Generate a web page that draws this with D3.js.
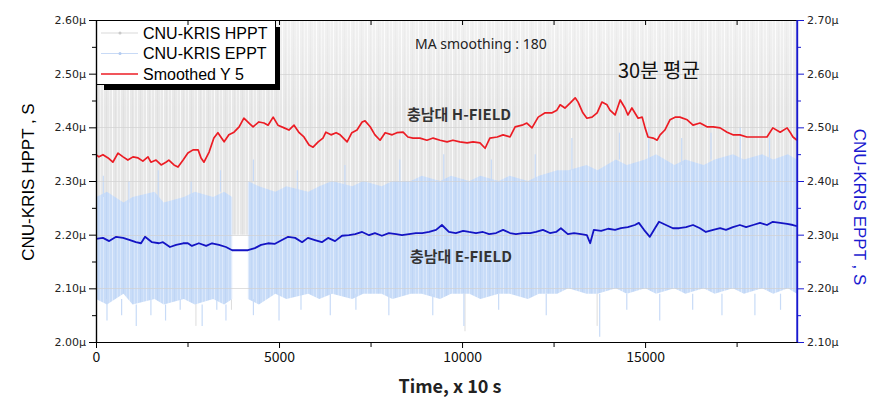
<!DOCTYPE html>
<html><head><meta charset="utf-8">
<script src="https://cdn.jsdelivr.net/npm/d3@7"></script>
<style>body{margin:0;background:#fff}svg{display:block}</style>
</head><body>
<svg id="c" width="887" height="412"></svg>
<script>
// ---------------- data ----------------
const timeDomain = [0, 19150];
const xTicks = [0, 5000, 10000, 15000];
const xMinorTicks = [2500, 7500, 12500, 17500];
const leftTicks = [2.0, 2.1, 2.2, 2.3, 2.4, 2.5, 2.6];
const rightTicks = [2.1, 2.2, 2.3, 2.4, 2.5, 2.6, 2.7];
const leftDomain = [2.0, 2.6];
const rightDomain = [2.1, 2.7];

// raw HPPT noise envelope [time, low, high] (left axis, µs)
const hpptBand = [
  [0,2.21,2.62],[1000,2.21,2.62],[2000,2.21,2.62],[3000,2.21,2.62],[3700,2.20,2.62],
  [4200,2.20,2.62],[5000,2.21,2.62],[6000,2.21,2.62],[7000,2.21,2.62],[8000,2.21,2.62],
  [9000,2.21,2.62],[10000,2.21,2.62],[11000,2.21,2.62],[12000,2.21,2.62],[13000,2.21,2.62],
  [14000,2.21,2.62],[15000,2.21,2.62],[16000,2.21,2.62],[17000,2.21,2.62],[18000,2.21,2.62],[19150,2.21,2.62]
];
// raw EPPT noise envelope [time, low, high] (right axis, µs); null = no data
const epptBand = [
  [0,2.18,2.37],[300,2.17,2.38],[750,2.19,2.36],[1000,2.17,2.37],[1600,2.18,2.38],
  [1850,2.17,2.36],[2400,2.18,2.37],[2700,2.17,2.38],[3200,2.18,2.37],[3500,2.17,2.38],
  [3720,2.18,2.37],[3930,null,null],[4150,2.18,2.40],[4450,2.17,2.39],[4900,2.19,2.38],
  [5200,2.18,2.39],[5800,2.19,2.38],[6100,2.18,2.39],[6450,2.19,2.40],[7000,2.18,2.39],
  [7300,2.19,2.40],[7800,2.19,2.39],[8100,2.18,2.40],[8600,2.19,2.40],[8900,2.19,2.41],
  [9400,2.18,2.40],[9700,2.19,2.41],[10200,2.19,2.40],[10500,2.18,2.41],[11000,2.19,2.40],
  [11300,2.19,2.41],[11800,2.18,2.40],[12100,2.19,2.41],[12600,2.19,2.42],[12900,2.20,2.42],
  [13400,2.19,2.43],[13700,2.19,2.42],[14200,2.20,2.44],[14500,2.19,2.43],[15000,2.20,2.44],
  [15300,2.19,2.45],[15800,2.20,2.43],[16100,2.19,2.44],[16600,2.20,2.43],[16900,2.19,2.44],
  [17400,2.20,2.45],[17700,2.19,2.44],[18200,2.20,2.45],[18500,2.19,2.44],[18900,2.20,2.45],
  [19150,2.19,2.44]
];
// isolated spikes [time, from, to]
const hpptSpikes = [[1150,2.21,2.10],[2730,2.21,2.03],[3700,2.20,2.06],[6200,2.21,2.11],[8800,2.21,2.12],
  [10080,2.21,2.02],[13690,2.21,2.03],[16800,2.21,2.10],[540,2.21,2.09],[2050,2.21,2.08],[4600,2.21,2.09],[12100,2.21,2.10]];
const epptSpikes = [
  [300,2.18,2.14],[700,2.18,2.15],[1100,2.17,2.13],[1500,2.18,2.15],[1900,2.17,2.14],[2300,2.18,2.16],
  [2900,2.17,2.13],[3300,2.18,2.16],[3550,2.17,2.14],[4300,2.18,2.15],[5000,2.19,2.14],[5600,2.19,2.16],
  [6400,2.19,2.15],[7100,2.19,2.16],[8000,2.19,2.15],[9200,2.19,2.15],[10050,2.19,2.13],[11000,2.19,2.16],
  [12300,2.19,2.15],[13760,2.19,2.11],[14500,2.19,2.16],[15400,2.19,2.14],[16300,2.19,2.16],[17100,2.19,2.15],
  [18000,2.19,2.15],[18700,2.19,2.16],
  [200,2.37,2.41],[900,2.36,2.40],[1700,2.37,2.42],[2600,2.37,2.40],[3400,2.38,2.42],[4300,2.40,2.44],
  [5500,2.38,2.42],[6800,2.39,2.43],[8300,2.39,2.44],[9500,2.40,2.45],[10800,2.40,2.44],[12000,2.40,2.45],
  [13000,2.42,2.48],[14300,2.44,2.49],[15100,2.44,2.50],[16000,2.43,2.48],[16800,2.44,2.49],[17600,2.44,2.50],[18400,2.44,2.48]
];

// 180-point moving averages
const hpptSmoothed = [
  [0,2.349],[80,2.345],[190,2.349],[330,2.343],[460,2.335],[600,2.352],[740,2.345],[870,2.339],
  [1010,2.345],[1150,2.343],[1280,2.337],[1420,2.345],[1500,2.335],[1640,2.339],[1780,2.330],
  [1910,2.335],[1990,2.339],[2130,2.330],[2240,2.326],[2380,2.339],[2510,2.352],[2650,2.358],
  [2790,2.358],[2870,2.343],[2950,2.335],[3090,2.354],[3220,2.380],[3330,2.390],[3500,2.373],
  [3630,2.386],[3770,2.391],[3910,2.401],[4040,2.417],[4180,2.408],[4290,2.401],[4450,2.410],
  [4590,2.408],[4700,2.404],[4840,2.419],[4970,2.404],[5140,2.399],[5270,2.395],[5410,2.404],
  [5550,2.390],[5680,2.382],[5820,2.367],[5930,2.363],[6070,2.373],[6200,2.380],[6280,2.391],
  [6420,2.386],[6560,2.390],[6670,2.386],[6860,2.373],[6990,2.390],[7130,2.395],[7270,2.410],
  [7350,2.412],[7490,2.401],[7620,2.386],[7760,2.376],[7900,2.390],[8090,2.386],[8220,2.390],
  [8390,2.391],[8520,2.382],[8660,2.380],[8850,2.380],[9040,2.376],[9210,2.380],[9400,2.376],
  [9590,2.373],[9750,2.376],[9940,2.373],[10140,2.371],[10300,2.373],[10490,2.371],[10630,2.361],
  [10760,2.380],[10960,2.382],[11120,2.386],[11310,2.382],[11450,2.401],[11640,2.404],[11770,2.408],
  [11910,2.399],[12080,2.419],[12270,2.427],[12460,2.427],[12590,2.432],[12680,2.442],[12810,2.436],
  [12950,2.445],[13090,2.455],[13170,2.447],[13300,2.427],[13410,2.417],[13550,2.419],[13690,2.427],
  [13820,2.447],[13960,2.442],[14040,2.432],[14180,2.423],[14320,2.451],[14450,2.436],[14530,2.423],
  [14640,2.436],[14810,2.417],[14920,2.419],[15000,2.399],[15080,2.382],[15220,2.380],[15330,2.376],
  [15410,2.386],[15540,2.395],[15680,2.414],[15820,2.419],[15950,2.419],[16150,2.414],[16310,2.404],
  [16500,2.408],[16690,2.401],[16860,2.401],[17050,2.399],[17240,2.391],[17400,2.386],[17590,2.386],
  [17780,2.382],[17950,2.382],[18140,2.382],[18330,2.382],[18490,2.399],[18690,2.391],[18880,2.399],
  [18960,2.391],[19040,2.382],[19150,2.376]
];
const epptSmoothed = [
  [0,2.292],[190,2.294],[360,2.288],[550,2.296],[740,2.294],[930,2.290],[1090,2.286],[1230,2.284],
  [1340,2.296],[1530,2.286],[1720,2.284],[1830,2.286],[2020,2.277],[2190,2.281],[2380,2.284],
  [2510,2.284],[2620,2.279],[2810,2.284],[3010,2.279],[3170,2.284],[3360,2.281],[3550,2.277],
  [3720,2.271],[4150,2.271],[4340,2.275],[4510,2.281],[4700,2.284],[4890,2.283],[5080,2.290],
  [5250,2.296],[5440,2.294],[5630,2.286],[5790,2.294],[5980,2.290],[6170,2.286],[6340,2.294],
  [6530,2.288],[6720,2.298],[6910,2.299],[7080,2.301],[7270,2.305],[7460,2.299],[7620,2.303],
  [7810,2.298],[8000,2.303],[8200,2.301],[8360,2.299],[8550,2.301],[8740,2.303],[8910,2.303],
  [9100,2.305],[9290,2.309],[9450,2.318],[9640,2.305],[9830,2.303],[10030,2.307],[10190,2.305],
  [10380,2.303],[10570,2.305],[10740,2.301],[10930,2.303],[11120,2.309],[11310,2.303],[11470,2.301],
  [11660,2.303],[11860,2.303],[12020,2.305],[12210,2.309],[12400,2.303],[12570,2.305],[12700,2.312],
  [12890,2.301],[13060,2.303],[13250,2.301],[13410,2.299],[13500,2.284],[13600,2.309],[13800,2.307],
  [13990,2.311],[14180,2.309],[14340,2.312],[14530,2.314],[14720,2.318],[14830,2.322],[14970,2.309],
  [15130,2.296],[15270,2.312],[15380,2.324],[15570,2.318],[15760,2.312],[15930,2.312],[16120,2.314],
  [16310,2.318],[16500,2.312],[16660,2.305],[16860,2.309],[17050,2.312],[17210,2.309],[17400,2.314],
  [17590,2.318],[17760,2.314],[17950,2.318],[18140,2.322],[18330,2.318],[18490,2.324],[18690,2.322],
  [18880,2.320],[19040,2.318],[19150,2.316]
];
const legendLabels = ["CNU-KRIS HPPT", "CNU-KRIS EPPT", "Smoothed Y 5"];

// ---------------- drawing ----------------
const svg = d3.select("#c");
const P = {l: 96, r: 797, t: 20, b: 342};
const x = d3.scaleLinear().domain(timeDomain).range([P.l, P.r]);
const yL = d3.scaleLinear().domain(leftDomain).range([P.b, P.t]);
const yR = d3.scaleLinear().domain(rightDomain).range([P.b, P.t]);

const defs = svg.append("defs");
defs.append("clipPath").attr("id", "clip").append("rect")
  .attr("x", P.l).attr("y", P.t).attr("width", P.r - P.l).attr("height", P.b - P.t);
function stripes(id, base, cols) {
  const p = defs.append("pattern").attr("id", id).attr("patternUnits", "userSpaceOnUse")
    .attr("width", 17).attr("height", 420);
  p.append("rect").attr("width", 17).attr("height", 420).attr("fill", base);
  cols.forEach(([xx, c, w]) => p.append("rect").attr("x", xx).attr("width", w).attr("height", 420).attr("fill", c));
}
stripes("gpat", "#e7e7e7", [[1, "#f6f6f6", 1], [4, "#e0e0e0", 1], [7, "#f0f0f0", 1], [10, "#fafafa", 1], [13, "#e1e1e1", 1], [15, "#f2f2f2", 1]]);
stripes("bpat", "#c8dcf8", [[1, "#dbe8fb", 1], [4, "#bfd5f5", 1], [7, "#d3e3fa", 1], [10, "#e0ebfc", 1], [13, "#c1d7f6", 1], [15, "#d6e5fa", 1]]);
const fade = defs.append("linearGradient").attr("id", "fade").attr("x1", 0).attr("x2", 0).attr("y1", 0).attr("y2", 1);
fade.append("stop").attr("offset", 0).attr("stop-color", "#fff").attr("stop-opacity", 0.45);
fade.append("stop").attr("offset", 1).attr("stop-color", "#fff").attr("stop-opacity", 0);

const plot = svg.append("g").attr("clip-path", "url(#clip)");

// HPPT raw
plot.append("path").datum(hpptBand)
  .attr("d", d3.area().x(d => x(d[0])).y0(d => yL(d[1])).y1(d => yL(d[2])))
  .attr("fill", "url(#gpat)");
plot.append("rect").attr("x", P.l).attr("y", P.t).attr("width", P.r - P.l).attr("height", 90).attr("fill", "url(#fade)");
plot.selectAll(".hs").data(hpptSpikes).join("line")
  .attr("x1", d => x(d[0])).attr("x2", d => x(d[0]))
  .attr("y1", d => yL(d[1])).attr("y2", d => yL(d[2]))
  .attr("stroke", "#dcdcdc").attr("stroke-width", 1);
// EPPT raw
plot.append("path").datum(epptBand)
  .attr("d", d3.area().defined(d => d[1] != null).x(d => x(d[0])).y0(d => yR(d[1])).y1(d => yR(d[2])))
  .attr("fill", "url(#bpat)");
plot.selectAll(".es").data(epptSpikes).join("line")
  .attr("x1", d => x(d[0])).attr("x2", d => x(d[0]))
  .attr("y1", d => yR(d[1])).attr("y2", d => yR(d[2]))
  .attr("stroke", "#c8dbf7").attr("stroke-width", 1.2);

// grid lines
plot.selectAll(".grid").data(leftTicks.slice(1, -1)).join("line")
  .attr("x1", P.l).attr("x2", P.r)
  .attr("y1", d => Math.round(yL(d)) + 0.5).attr("y2", d => Math.round(yL(d)) + 0.5)
  .attr("stroke", "#d2d2d2").attr("stroke-width", 1).attr("opacity", 0.7);

// smoothed lines
plot.append("path").datum(hpptSmoothed)
  .attr("d", d3.line().x(d => x(d[0])).y(d => yL(d[1])))
  .attr("fill", "none").attr("stroke", "#ec1c24").attr("stroke-width", 1.7).attr("stroke-linejoin", "round");
plot.append("path").datum(epptSmoothed)
  .attr("d", d3.line().x(d => x(d[0])).y(d => yR(d[1])))
  .attr("fill", "none").attr("stroke", "#1414c4").attr("stroke-width", 1.8).attr("stroke-linejoin", "round");

// annotations
const kr = "'Noto Sans CJK KR', 'Noto Sans', sans-serif";
svg.append("text").attr("x", 415).attr("y", 49).text("MA smoothing : 180")
  .attr("font-family", "'Noto Sans', sans-serif").attr("font-size", 14).attr("fill", "#222");
svg.append("text").attr("x", 618).attr("y", 78).text("30분 평균")
  .attr("font-family", kr).attr("font-size", 20).attr("fill", "#111");
svg.append("text").attr("x", 407).attr("y", 120).text("충남대 H-FIELD")
  .attr("font-family", kr).attr("font-size", 15).attr("font-weight", 700).attr("fill", "#333");
svg.append("text").attr("x", 410).attr("y", 262).text("충남대 E-FIELD")
  .attr("font-family", kr).attr("font-size", 15).attr("font-weight", 700).attr("fill", "#333");

// legend
const lg = svg.append("g");
lg.append("rect").attr("x", 104).attr("y", 27).attr("width", 176).attr("height", 63).attr("fill", "#000");
lg.append("rect").attr("x", 96.5).attr("y", 20.5).attr("width", 179).attr("height", 64)
  .attr("fill", "#fff").attr("stroke", "#000").attr("stroke-width", 1);
const legStyle = [["#d9d9d9", "#c9c9c9", 1], ["#c8daf6", "#b3cbf0", 1], ["#ec1c24", null, 1.6]];
legendLabels.forEach((t, i) => {
  const yy = 33 + i * 20.5;
  lg.append("line").attr("x1", 101).attr("x2", 138).attr("y1", yy).attr("y2", yy)
    .attr("stroke", legStyle[i][0]).attr("stroke-width", legStyle[i][2]);
  if (legStyle[i][1]) lg.append("circle").attr("cx", 120).attr("cy", yy).attr("r", 1.5).attr("fill", legStyle[i][1]);
  lg.append("text").attr("x", 143).attr("y", yy + 5.5).text(t)
    .attr("font-family", "'Liberation Sans', Arial, sans-serif").attr("font-size", 16).attr("fill", "#000");
});

// axes
const fmt = d => d3.format(".2f")(d) + "µ";
function styleAxis(g, col, labCol, fam, size) {
  g.selectAll("path").attr("stroke", col).attr("stroke-width", 1.2);
  g.selectAll("line").attr("stroke", col);
  g.selectAll("text").attr("fill", labCol).attr("font-family", fam).attr("font-size", size);
}
const dv = "'DejaVu Sans', sans-serif";
const minorL = d3.range(2.05, 2.6, 0.1);
const minorR = d3.range(2.15, 2.7, 0.1);
let g;
g = svg.append("g").attr("transform", `translate(${P.l},0)`)
  .call(d3.axisLeft(yL).tickValues(leftTicks).tickFormat(fmt).tickSize(7).tickSizeOuter(0).tickPadding(3));
styleAxis(g, "#000", "#222", dv, 11);
g = svg.append("g").attr("transform", `translate(${P.l},0)`)
  .call(d3.axisLeft(yL).tickValues(minorL).tickFormat("").tickSize(4).tickSizeOuter(0));
styleAxis(g, "#000", "#222", dv, 11);
g = svg.append("g").attr("transform", `translate(${P.r},0)`)
  .call(d3.axisRight(yR).tickValues(rightTicks).tickFormat(fmt).tickSize(7).tickSizeOuter(0).tickPadding(3));
styleAxis(g, "#1a1ad0", "#222", dv, 11);
g = svg.append("g").attr("transform", `translate(${P.r},0)`)
  .call(d3.axisRight(yR).tickValues(minorR).tickFormat("").tickSize(4).tickSizeOuter(0));
styleAxis(g, "#1a1ad0", "#222", dv, 11);
g = svg.append("g").attr("transform", `translate(0,${P.b})`)
  .call(d3.axisBottom(x).tickValues(xTicks).tickFormat(d3.format("d")).tickSize(6).tickSizeOuter(0).tickPadding(4));
styleAxis(g, "#000", "#111", kr, 14);
g = svg.append("g").attr("transform", `translate(0,${P.b})`)
  .call(d3.axisBottom(x).tickValues(xMinorTicks).tickFormat("").tickSize(5).tickSizeOuter(0));
styleAxis(g, "#000", "#111", kr, 14);
g = svg.append("g").attr("transform", `translate(0,${P.t})`)
  .call(d3.axisTop(x).tickValues(xTicks.concat(xMinorTicks)).tickFormat("").tickSize(-5).tickSizeOuter(0));
styleAxis(g, "#000", "#111", kr, 14);
svg.append("line").attr("x1", P.r).attr("x2", P.r).attr("y1", P.t).attr("y2", P.b)
  .attr("stroke", "#1a1ad0").attr("stroke-width", 1.3);

// titles
svg.append("text").attr("x", 450).attr("y", 393).attr("text-anchor", "middle").text("Time, x 10 s")
  .attr("font-family", kr).attr("font-size", 18).attr("font-weight", 700).attr("fill", "#222");
svg.append("text").attr("transform", "translate(28,182) rotate(-90)").attr("text-anchor", "middle")
  .attr("dy", "0.35em").text("CNU-KRIS HPPT , S")
  .attr("font-family", "'Liberation Sans', Arial, sans-serif").attr("font-size", 17).attr("fill", "#000");
svg.append("text").attr("transform", "translate(860,207) rotate(90)").attr("text-anchor", "middle")
  .attr("dy", "0.35em").text("CNU-KRIS EPPT , S")
  .attr("font-family", "'Liberation Sans', Arial, sans-serif").attr("font-size", 17).attr("fill", "#1a1ad0");
</script>
</body></html>
